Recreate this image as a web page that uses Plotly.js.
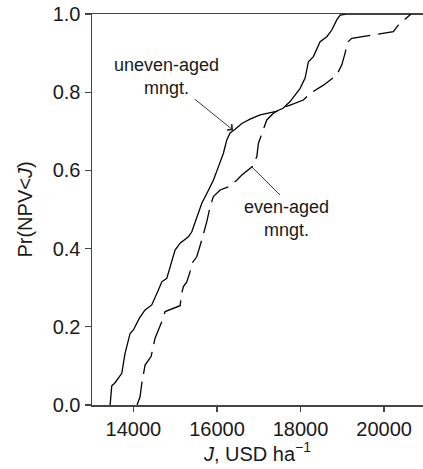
<!DOCTYPE html>
<html>
<head>
<meta charset="utf-8">
<script src="https://cdn.plot.ly/plotly-3.0.1.min.js"></script>
<style>html,body{margin:0;padding:0;background:#fff;}#chart{width:423px;height:469px;}</style>
</head>
<body>
<div id="chart"></div>
<script>
// Uneven-aged management: cumulative probability curve
const unevenJ = [13443,13483,13562,13722,13801,13921,14000,14144,14280,14440,14598,14680,14799,14919,14998,15118,15316,15398,15517,15637,15757,15914,16034,16154,16235,16314,16434,16594,16793,17032,17391,17582,17750,17870,17990,18109,18188,18307,18389,18468,18628,18748,18867,18946,19090,20930];
const unevenP = [0,0.049,0.057,0.081,0.132,0.183,0.192,0.222,0.243,0.256,0.294,0.315,0.324,0.366,0.396,0.414,0.430,0.443,0.477,0.516,0.541,0.575,0.609,0.644,0.678,0.696,0.705,0.720,0.731,0.742,0.750,0.759,0.776,0.793,0.810,0.836,0.878,0.891,0.912,0.929,0.942,0.959,0.985,0.997,1.0,1.0];

// Even-aged management: cumulative probability curve
const evenJ = [14089,14160,14201,14239,14280,14424,14479,14519,14598,14680,14759,15118,15158,15197,15278,15357,15398,15517,15637,15757,15835,15914,16075,16273,16474,16594,16841,16953,16991,17073,17192,17350,17551,17750,18068,18229,18547,18867,18987,19066,19126,19226,19712,20222,20342,20543,20645];
const evenP = [0,0.021,0.055,0.081,0.102,0.124,0.149,0.171,0.192,0.213,0.239,0.254,0.286,0.303,0.315,0.341,0.362,0.379,0.422,0.469,0.507,0.533,0.550,0.558,0.575,0.588,0.609,0.635,0.669,0.695,0.729,0.746,0.759,0.767,0.780,0.797,0.818,0.844,0.870,0.900,0.928,0.938,0.946,0.955,0.972,0.989,1.0];

const xTicks = [14000,16000,18000,20000];
const yTicks = [0,0.2,0.4,0.6,0.8,1.0];
const labelUneven = 'uneven-aged<br>mngt.';
const labelEven = 'even-aged<br>mngt.';

const FONT = 'Liberation Sans, Arial, Helvetica, sans-serif';
const TXT = '#1a1a1a';
const AX = '#444';

const traces = [
  {x: unevenJ, y: unevenP, type: 'scatter', mode: 'lines',
   line: {color: '#000', width: 1.3}, hoverinfo: 'skip'},
  {x: evenJ, y: evenP, type: 'scatter', mode: 'lines',
   line: {color: '#000', width: 1.3, dash: '24px,8px'}, hoverinfo: 'skip'}
];

const layout = {
  width: 423, height: 469,
  margin: {l: 92, r: 0, t: 14, b: 64, pad: 0},
  paper_bgcolor: '#fff', plot_bgcolor: '#fff',
  showlegend: false,
  font: {family: FONT, size: 20, color: TXT},
  xaxis: {
    range: [13010, 20930], tickvals: xTicks, tickformat: 'd',
    showgrid: false, zeroline: false,
    showline: true, linecolor: AX, linewidth: 1.5, mirror: true,
    ticks: 'outside', ticklen: 5, tickwidth: 1.3, tickcolor: AX,
    tickfont: {family: FONT, size: 20, color: TXT},
    title: {text: '<i>J</i>, USD ha<sup>−1</sup>', font: {family: FONT, size: 20, color: TXT}, standoff: 3}
  },
  yaxis: {
    range: [0, 1], tickvals: yTicks, tickformat: '.1f',
    showgrid: false, zeroline: false,
    showline: true, linecolor: AX, linewidth: 1.5, mirror: false,
    ticks: 'outside', ticklen: 6, tickwidth: 1.3, tickcolor: AX,
    tickfont: {family: FONT, size: 20, color: TXT},
    title: {text: 'Pr(NPV&lt;<i>J</i>)', font: {family: FONT, size: 20, color: TXT}, standoff: 14}
  },
  annotations: [
    {x: 16386, y: 0.703, xref: 'x', yref: 'y', ax: 14788, ay: 0.841, axref: 'x', ayref: 'y',
     text: labelUneven, showarrow: true, arrowhead: 4, arrowsize: 1.6, arrowwidth: 0.9, arrowcolor: '#222',
     font: {family: FONT, size: 18, color: TXT}, align: 'center'},
    {x: 17654, y: 0.478, xref: 'x', yref: 'y', text: labelEven, showarrow: false,
     font: {family: FONT, size: 18, color: TXT}, align: 'center'}
  ],
  shapes: [
    {type: 'line', xref: 'x', yref: 'y', x0: 16833, y0: 0.609, x1: 17510, y1: 0.537,
     line: {color: '#222', width: 0.9}}
  ]
};

Plotly.newPlot('chart', traces, layout, {staticPlot: true, displayModeBar: false});
</script>
</body>
</html>
